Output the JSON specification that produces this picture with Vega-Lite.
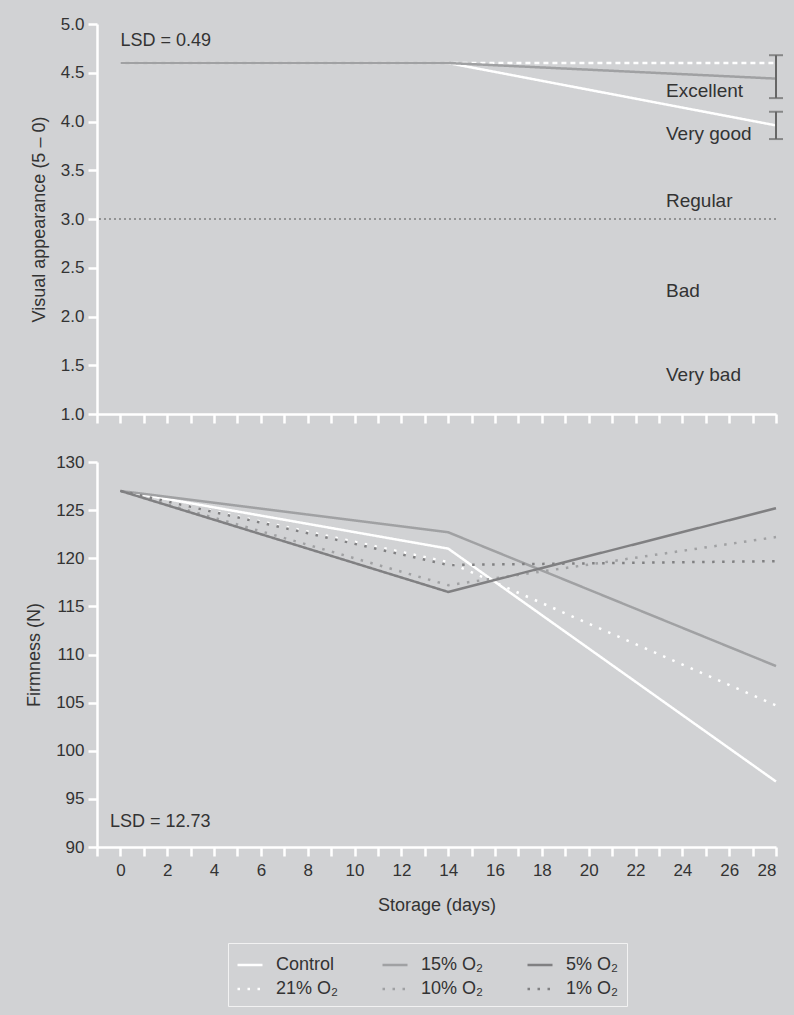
{
  "$schema": "https://vega.github.io/schema/vega-lite/v6.json",
  "background": "#d1d2d4",
  "padding": {"left": 25, "top": 15, "right": 11, "bottom": 10},
  "config": {
    "font": "Liberation Sans",
    "view": {"stroke": null},
    "axis": {"domainColor": "white", "domainWidth": 2.5, "tickColor": "white", "tickWidth": 2.5, "tickSize": 9, "grid": false, "labelFontSize": 17, "labelColor": "#333333", "titleFontSize": 18, "titleColor": "#333333", "titleFontWeight": "normal", "labelPadding": 4, "titlePadding": 12, "tickCount": 40}
  },
  "datasets": {
    "appearance": [
      {"treatment": "Control", "day": 0, "score": 4.6},
      {"treatment": "Control", "day": 14, "score": 4.6},
      {"treatment": "Control", "day": 28, "score": 3.96},
      {"treatment": "21% O₂", "day": 0, "score": 4.6},
      {"treatment": "21% O₂", "day": 14, "score": 4.6},
      {"treatment": "21% O₂", "day": 28, "score": 4.6},
      {"treatment": "15% O₂", "day": 0, "score": 4.6},
      {"treatment": "15% O₂", "day": 14, "score": 4.6},
      {"treatment": "15% O₂", "day": 28, "score": 4.44}
    ],
    "firmness": [
      {"treatment": "Control", "day": 0, "firm": 127},
      {"treatment": "Control", "day": 14, "firm": 121.0},
      {"treatment": "Control", "day": 28, "firm": 96.8},
      {"treatment": "21% O₂", "day": 0, "firm": 127},
      {"treatment": "21% O₂", "day": 14, "firm": 119.6},
      {"treatment": "21% O₂", "day": 28, "firm": 104.7},
      {"treatment": "15% O₂", "day": 0, "firm": 127},
      {"treatment": "15% O₂", "day": 14, "firm": 122.7},
      {"treatment": "15% O₂", "day": 28, "firm": 108.8},
      {"treatment": "10% O₂", "day": 0, "firm": 127},
      {"treatment": "10% O₂", "day": 14, "firm": 117.2},
      {"treatment": "10% O₂", "day": 28, "firm": 122.2},
      {"treatment": "5% O₂", "day": 0, "firm": 127},
      {"treatment": "5% O₂", "day": 14, "firm": 116.5},
      {"treatment": "5% O₂", "day": 28, "firm": 125.2},
      {"treatment": "1% O₂", "day": 0, "firm": 127},
      {"treatment": "1% O₂", "day": 14, "firm": 119.3},
      {"treatment": "1% O₂", "day": 28, "firm": 119.7}
    ],
    "lsdbars": [
      {"day": 28, "lo": 4.24, "hi": 4.68},
      {"day": 28, "lo": 3.82, "hi": 4.10}
    ],
    "classes": [
      {"label": "Excellent", "day": 23.3, "score": 4.31},
      {"label": "Very good", "day": 23.3, "score": 3.87},
      {"label": "Regular", "day": 23.3, "score": 3.18},
      {"label": "Bad", "day": 23.3, "score": 2.26},
      {"label": "Very bad", "day": 23.3, "score": 1.40}
    ]
  },
  "bounds": "flush",
  "spacing": 48,
  "vconcat": [
    {
      "width": 679,
      "height": 390,
      "layer": [
        {
          "data": {"values": [{}]},
          "mark": {"type": "rule", "color": "#555555", "strokeDash": [2, 3], "strokeWidth": 1.2},
          "encoding": {"y": {"datum": 3, "type": "quantitative"}}
        },
        {
          "data": {"name": "appearance"},
          "mark": {"type": "line", "strokeWidth": 2.5, "strokeCap": "butt"},
          "encoding": {
            "x": {"field": "day", "type": "quantitative", "scale": {"domain": [-1, 28], "nice": false, "zero": false},
                  "axis": {"values": [-1,0,1,2,3,4,5,6,7,8,9,10,11,12,13,14,15,16,17,18,19,20,21,22,23,24,25,26,27,28], "labels": false, "title": null}},
            "y": {"field": "score", "type": "quantitative", "scale": {"domain": [1, 5], "nice": false, "zero": false},
                  "axis": {"values": [1,1.5,2,2.5,3,3.5,4,4.5,5], "format": ".1f", "title": "Visual appearance (5 – 0)"}},
            "color": {"field": "treatment", "type": "nominal", "legend": null,
                      "scale": {"domain": ["Control","15% O₂","5% O₂","21% O₂","10% O₂","1% O₂"], "range": ["#ffffff","#a0a1a3","#808082","#ffffff","#a0a1a3","#808082"]}},
            "strokeDash": {"field": "treatment", "type": "nominal", "legend": null,
                      "scale": {"domain": ["Control","15% O₂","5% O₂","21% O₂","10% O₂","1% O₂"], "range": [[1,0],[1,0],[1,0],[5,4],[2.5,7.5],[2.5,7.5]]}}
          }
        },
        {
          "data": {"name": "lsdbars"},
          "mark": {"type": "rule", "color": "#666666", "strokeWidth": 2},
          "encoding": {"x": {"field": "day", "type": "quantitative"}, "y": {"field": "lo", "type": "quantitative"}, "y2": {"field": "hi"}}
        },
        {
          "data": {"name": "lsdbars"},
          "mark": {"type": "tick", "orient": "horizontal", "color": "#666666", "size": 14, "thickness": 2},
          "encoding": {"x": {"field": "day", "type": "quantitative"}, "y": {"field": "lo", "type": "quantitative"}}
        },
        {
          "data": {"name": "lsdbars"},
          "mark": {"type": "tick", "orient": "horizontal", "color": "#666666", "size": 14, "thickness": 2},
          "encoding": {"x": {"field": "day", "type": "quantitative"}, "y": {"field": "hi", "type": "quantitative"}}
        },
        {
          "data": {"name": "classes"},
          "mark": {"type": "text", "align": "left", "baseline": "middle", "fontSize": 19, "color": "#333333", "font": "Liberation Sans"},
          "encoding": {"x": {"field": "day", "type": "quantitative"}, "y": {"field": "score", "type": "quantitative"}, "text": {"field": "label"}}
        },
        {
          "data": {"values": [{}]},
          "mark": {"type": "text", "align": "left", "baseline": "middle", "fontSize": 18, "color": "#333333", "font": "Liberation Sans", "text": "LSD = 0.49"},
          "encoding": {"x": {"datum": 0, "type": "quantitative"}, "y": {"datum": 4.83, "type": "quantitative"}}
        }
      ]
    },
    {
      "width": 679,
      "height": 385,
      "layer": [
        {
          "data": {"name": "firmness"},
          "mark": {"type": "line", "strokeWidth": 2.5, "strokeCap": "butt"},
          "encoding": {
            "x": {"field": "day", "type": "quantitative", "scale": {"domain": [-1, 28], "nice": false, "zero": false},
                  "axis": {"values": [-1,0,1,2,3,4,5,6,7,8,9,10,11,12,13,14,15,16,17,18,19,20,21,22,23,24,25,26,27,28],
                           "labelExpr": "datum.value >= 0 && datum.value % 2 == 0 ? datum.label : ''", "labelOverlap": false, "title": "Storage (days)", "labelPadding": 6, "titlePadding": 18}},
            "y": {"field": "firm", "type": "quantitative", "scale": {"domain": [90, 130], "nice": false, "zero": false},
                  "axis": {"values": [90,95,100,105,110,115,120,125,130], "title": "Firmness (N)"}},
            "color": {"field": "treatment", "type": "nominal",
                      "scale": {"domain": ["Control","15% O₂","5% O₂","21% O₂","10% O₂","1% O₂"], "range": ["#ffffff","#a0a1a3","#808082","#ffffff","#a0a1a3","#808082"]},
                      "legend": {"orient": "none", "legendX": 131, "legendY": 481, "columns": 3, "direction": "horizontal", "title": null,
                                 "symbolType": "stroke", "symbolSize": 625, "symbolStrokeWidth": 2.5, "labelFontSize": 18, "labelColor": "#333333",
                                 "strokeColor": "#f2f2f2", "padding": 8, "columnPadding": 38, "rowPadding": 1, "labelOffset": 12}},
            "strokeDash": {"field": "treatment", "type": "nominal",
                      "scale": {"domain": ["Control","15% O₂","5% O₂","21% O₂","10% O₂","1% O₂"], "range": [[1,0],[1,0],[1,0],[2.5,7.5],[2.5,7.5],[2.5,7.5]]},
                      "legend": {"orient": "none", "legendX": 131, "legendY": 481, "columns": 3, "direction": "horizontal", "title": null,
                                 "symbolType": "stroke", "symbolSize": 625, "symbolStrokeWidth": 2.5, "labelFontSize": 18, "labelColor": "#333333",
                                 "strokeColor": "#f2f2f2", "padding": 8, "columnPadding": 38, "rowPadding": 1, "labelOffset": 12}}
          }
        },
        {
          "data": {"values": [{}]},
          "mark": {"type": "text", "align": "left", "baseline": "middle", "fontSize": 18, "color": "#333333", "font": "Liberation Sans", "text": "LSD = 12.73"},
          "encoding": {"x": {"datum": -0.45, "type": "quantitative"}, "y": {"datum": 92.6, "type": "quantitative"}}
        }
      ]
    }
  ],
  "resolve": {"scale": {"color": "independent", "strokeDash": "independent"}}
}
